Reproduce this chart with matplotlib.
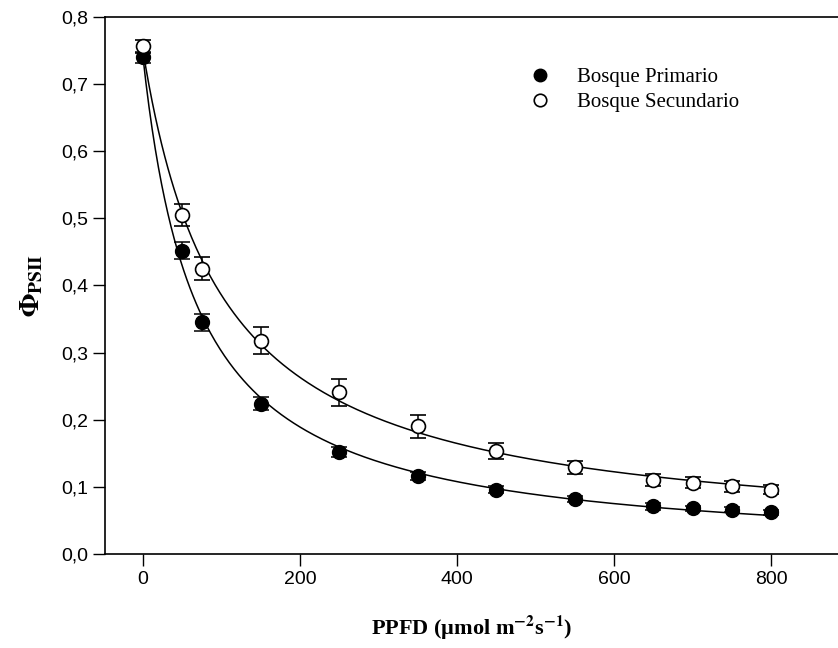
import matplotlib
matplotlib.use("Agg")
import matplotlib.pyplot as plt
import numpy as np

# PPFD levels (umol m-2 s-1)
ppfd = [0, 50, 75, 150, 250, 350, 450, 550, 650, 700, 750, 800]

# Phi PSII means and standard errors
primario = [0.740, 0.452, 0.345, 0.224, 0.152, 0.116, 0.096, 0.082, 0.071, 0.068, 0.066, 0.062]
primario_err = [0.008, 0.013, 0.013, 0.010, 0.007, 0.006, 0.005, 0.005, 0.005, 0.004, 0.004, 0.004]
secundario = [0.756, 0.505, 0.425, 0.318, 0.241, 0.190, 0.153, 0.129, 0.110, 0.106, 0.101, 0.096]
secundario_err = [0.010, 0.016, 0.017, 0.020, 0.020, 0.017, 0.012, 0.010, 0.009, 0.008, 0.008, 0.007]

labels = ["Bosque Primario", "Bosque Secundario"]


def fit_hyperbola(x, y):
    # y = y0 + a / (1 + b x), b by grid search, y0 and a by least squares
    x = np.asarray(x, float)
    y = np.asarray(y, float)
    best = None
    for b in np.linspace(0.001, 0.1, 2000):
        A = np.column_stack([np.ones_like(x), 1.0 / (1.0 + b * x)])
        coef, *_ = np.linalg.lstsq(A, y, rcond=None)
        sse = np.sum((A @ coef - y) ** 2)
        if best is None or sse < best[0]:
            best = (sse, b, coef)
    _, b, (y0, a) = best
    return lambda t: y0 + a / (1.0 + b * t)


plt.rcParams["mathtext.fontset"] = "stix"

fig = plt.figure(figsize=(8.38, 6.48), dpi=100)
ax = fig.add_axes([0.1253, 0.145, 0.8747, 0.829])

xs = np.linspace(0, 800, 400)
for y in (primario, secundario):
    f = fit_hyperbola(ppfd, y)
    ax.plot(xs, f(xs), color="black", lw=1.1, zorder=2)

ax.errorbar(ppfd, primario, yerr=primario_err, fmt="o", ms=10, mfc="black",
            mec="black", ecolor="black", elinewidth=1.1, capsize=5.5,
            capthick=1.1, label=labels[0], zorder=3)
ax.errorbar(ppfd, secundario, yerr=secundario_err, fmt="o", ms=10, mfc="white",
            mec="black", mew=1.2, ecolor="black", elinewidth=1.1, capsize=5.5,
            capthick=1.1, label=labels[1], zorder=3)

ax.set_xlim(-48, 885)
ax.set_ylim(0, 0.8)
ax.set_xticks([0, 200, 400, 600, 800])
ax.set_yticks(np.arange(0, 0.81, 0.1))
ax.set_yticklabels([f"{v:.1f}".replace(".", ",") for v in np.arange(0, 0.81, 0.1)])

ax.spines["right"].set_visible(False)
for s in ("left", "bottom", "top"):
    ax.spines[s].set_linewidth(1.2)
ax.tick_params(direction="out", length=8.5, width=1, labelsize=14)
for lab in ax.get_xticklabels() + ax.get_yticklabels():
    lab.set_fontfamily("Liberation Sans")

ax.set_xlabel(r"PPFD (µmol m$^{\mathbf{-2}}$s$^{\mathbf{-1}}$)",
              fontfamily="Liberation Serif", fontweight="bold", fontsize=16,
              labelpad=19)
ax.set_ylabel(r"$\mathbf{\Phi}_{\mathbf{PSII}}$", fontsize=20, labelpad=12)

handles, _ = ax.get_legend_handles_labels()
leg_handles = [h[0] for h in handles]
ax.legend(leg_handles, labels, loc="upper left", bbox_to_anchor=(0.545, 0.94),
          frameon=False, prop={"family": "Liberation Serif", "size": 15},
          handletextpad=1.0, labelspacing=0.25, markerscale=0.9,
          handlelength=1.6)

fig.savefig("out.png", dpi=100)
